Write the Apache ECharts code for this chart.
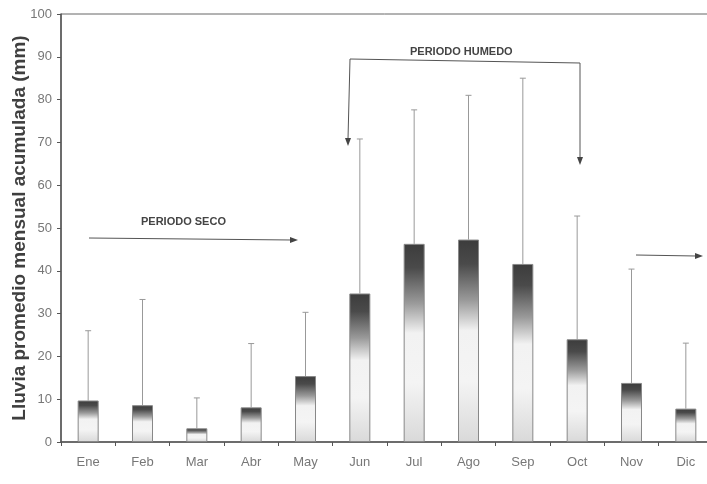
<!DOCTYPE html>
<html>
<head>
<meta charset="utf-8">
<script src="https://cdn.jsdelivr.net/npm/echarts@6/dist/echarts.min.js"></script>
<style>
html,body{margin:0;padding:0;background:#fff;}
#chart{width:707px;height:484px;}
</style>
</head>
<body>
<div id="chart"></div>
<script>
var months = ['Ene','Feb','Mar','Abr','May','Jun','Jul','Ago','Sep','Oct','Nov','Dic'];
var rainMean = [9.7, 8.6, 3.2, 8.1, 15.4, 34.7, 46.3, 47.3, 41.6, 24.0, 13.8, 7.8];
var rainUpper = [26, 33.3, 10.3, 23, 30.3, 70.8, 77.6, 81, 85, 52.8, 40.4, 23.1];
var yTicks = [0,10,20,30,40,50,60,70,80,90,100];

var chart = echarts.init(document.getElementById('chart'));
var FONT = 'Liberation Sans';
var barGrad = new echarts.graphic.LinearGradient(0,0,0,1,[
  {offset:0, color:'#3c3c3c'},
  {offset:0.12, color:'#4a4a4a'},
  {offset:0.3, color:'#9a9a9a'},
  {offset:0.45, color:'#f2f2f2'},
  {offset:0.7, color:'#f4f4f4'},
  {offset:1, color:'#d9d9d9'}
]);

var errData = months.map(function(m,i){ return [i, rainMean[i], rainUpper[i]]; });

chart.setOption({
  animation:false,
  backgroundColor:'#fff',
  grid:{left:61, width:652, top:14, bottom:42, show:true, borderColor:'#666', borderWidth:1,
        containLabel:false, outerBoundsMode:'none'},
  xAxis:{
    type:'category', data:months, boundaryGap:true,
    axisLine:{lineStyle:{color:'#555', width:1.5}},
    axisTick:{show:true, interval:0, length:4, lineStyle:{color:'#555'}},
    axisLabel:{color:'#777', fontFamily:FONT, fontSize:13, margin:14, interval:0}
  },
  yAxis:{
    type:'value', min:yTicks[0], max:yTicks[yTicks.length-1], interval:10,
    name:'Lluvia promedio mensual acumulada (mm)', nameLocation:'middle', nameGap:32,
    nameMoveOverlap:false,
    nameTextStyle:{color:'#3f3f3f', fontFamily:FONT, fontSize:19, fontWeight:'bold'},
    axisLine:{show:true, lineStyle:{color:'#555', width:1.5}},
    axisTick:{show:true, length:4, lineStyle:{color:'#555'}},
    axisLabel:{color:'#777', fontFamily:FONT, fontSize:13, margin:9},
    splitLine:{show:false}
  },
  series:[
    {
      type:'bar', data:rainMean, barWidth:21,
      itemStyle:{color:barGrad, borderColor:'#888', borderWidth:1}
    },
    {
      type:'custom', data:errData, z:1,
      renderItem:function(params, api){
        var i = api.value(0);
        var lo = api.coord([i, api.value(1)]);
        var hi = api.coord([i, api.value(2)]);
        return {type:'group', children:[
          {type:'line', shape:{x1:hi[0], y1:hi[1], x2:lo[0], y2:lo[1]}, style:{stroke:'#999', lineWidth:1}},
          {type:'line', shape:{x1:hi[0]-3, y1:hi[1], x2:hi[0]+3, y2:hi[1]}, style:{stroke:'#999', lineWidth:1}}
        ]};
      }
    }
  ],
  graphic:[
    {type:'text', left:141, top:216, style:{text:'PERIODO SECO', font:'bold 11px "Liberation Sans"', fill:'#444'}},
    {type:'line', shape:{x1:89, y1:238, x2:292, y2:240}, style:{stroke:'#555', lineWidth:1}},
    {type:'polygon', shape:{points:[[298,240],[290,237],[290,243]]}, style:{fill:'#444'}},
    {type:'text', left:410, top:46, style:{text:'PERIODO HUMEDO', font:'bold 11px "Liberation Sans"', fill:'#444'}},
    {type:'polyline', shape:{points:[[348,139],[350,59],[580,63],[580,158]]}, style:{stroke:'#555', lineWidth:1, fill:null}},
    {type:'polygon', shape:{points:[[348,146],[345,138],[351,138]]}, style:{fill:'#444'}},
    {type:'polygon', shape:{points:[[580,165],[577,157],[583,157]]}, style:{fill:'#444'}},
    {type:'line', shape:{x1:636, y1:255, x2:696, y2:256}, style:{stroke:'#555', lineWidth:1}},
    {type:'polygon', shape:{points:[[703,256],[695,253],[695,259]]}, style:{fill:'#444'}}
  ]
});
</script>
</body>
</html>
